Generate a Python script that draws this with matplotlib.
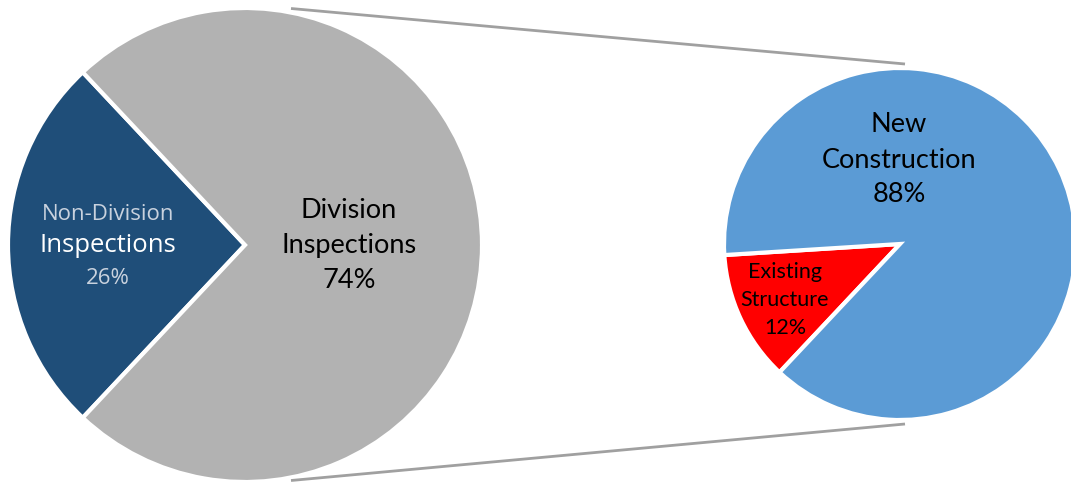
import matplotlib
matplotlib.use("Agg")
import matplotlib.pyplot as plt

# Data
left_labels = ["Non-Division\nInspections", "Division\nInspections"]
left_values = [26, 74]
left_colors = ["#1F4E79", "#B2B2B2"]

right_labels = ["Existing\nStructure", "New\nConstruction"]
right_values = [12, 88]
right_colors = ["#FF0000", "#5B9BD5"]

W, H = 1071, 484
fig = plt.figure(figsize=(W / 100, H / 100), dpi=100)
ax = fig.add_axes([0, 0, 1, 1])
ax.set_xlim(0, W)
ax.set_ylim(0, H)
ax.set_aspect("equal")
ax.axis("off")

def Y(y):
    return H - y

# Left pie
lc = (245, Y(245)); lr = 237
half = left_values[0] / sum(left_values) * 360 / 2
ax.pie(left_values, colors=left_colors, center=lc, radius=lr,
       startangle=180 - half, counterclock=True,
       wedgeprops=dict(edgecolor="white", linewidth=3), frame=True)

# Right pie
rc = (900, Y(244)); rr = 176
end_angle = 180 + half
r_start = end_angle - right_values[0] / sum(right_values) * 360
ax.pie(right_values, colors=right_colors, center=rc, radius=rr,
       startangle=r_start, counterclock=True,
       wedgeprops=dict(edgecolor="white", linewidth=3), frame=True)

ax.set_xlim(0, W)
ax.set_ylim(0, H)
ax.axis("off")

# Connector lines
ax.plot([291, 905], [Y(8.5), Y(64)], color="#A0A0A0", lw=2, solid_capstyle="butt")
ax.plot([291, 905], [Y(480.5), Y(424)], color="#A0A0A0", lw=2, solid_capstyle="butt")

def lines(x, ys, texts, sizes, colors, weights, fam):
    for y, t, s, c, w in zip(ys, texts, sizes, colors, weights):
        ax.text(x, Y(y), t, ha="center", va="center", fontsize=s, color=c,
                fontweight=w, family=fam)

os_fam = ["Open Sans", "DejaVu Sans"]
lato = ["Lato", "DejaVu Sans"]

nd1, nd2 = left_labels[0].split("\n")
lines(108, [214, 245, 278], [nd1, nd2, f"{left_values[0]}%"],
      [16, 18.5, 16], ["#C9D2DE", "white", "#C9D2DE"], ["normal", "normal", "normal"], os_fam)

d1, d2 = left_labels[1].split("\n")
lines(349, [210, 245, 281], [d1, d2, f"{left_values[1]}%"],
      [19.5, 19.5, 19.5], ["black"] * 3, ["normal"] * 3, lato)

n1, n2 = right_labels[1].split("\n")
lines(899, [125, 160, 195], [n1, n2, f"{right_values[1]}%"],
      [19.5, 19.5, 19.5], ["black"] * 3, ["normal"] * 3, lato)

e1, e2 = right_labels[0].split("\n")
lines(785, [272, 300, 328], [e1, e2, f"{right_values[0]}%"],
      [15.5, 15.5, 15.5], ["black"] * 3, ["normal"] * 3, lato)

fig.savefig("out.png", dpi=100)
